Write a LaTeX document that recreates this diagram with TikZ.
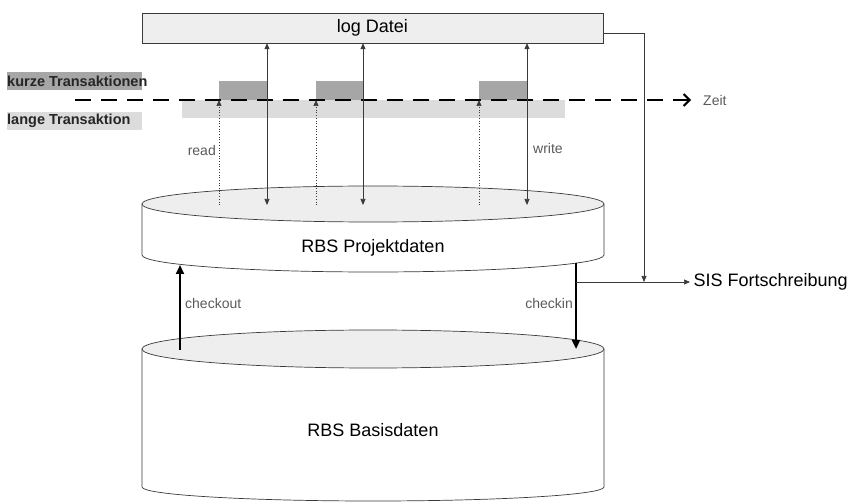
\documentclass[tikz,border=0pt]{standalone}
\usepackage{fontspec}
\setmainfont{Liberation Sans}
\usetikzlibrary{arrows.meta, positioning}
\definecolor{linegray}{HTML}{3A3A3A}
\definecolor{labelgray}{HTML}{5A5A5A}
\definecolor{lightband}{HTML}{DCDCDC}
\definecolor{darkblock}{HTML}{A6A6A6}
\definecolor{diskface}{HTML}{EEEEEE}
\tikzset{
  big/.style={font=\fontsize{18}{20}\selectfont, text=black},
  small/.style={font=\fontsize{14}{16}\selectfont, text=labelgray, inner sep=1pt},
  legend/.style={font=\bfseries\fontsize{14.5}{16}\selectfont, text=black!85, inner sep=0pt, anchor=west},
  logbox/.style={draw=linegray, fill=diskface, minimum width=461pt, minimum height=30pt, inner sep=0pt, big}
}
\tikzstyle{arrow} = [linegray, line width=0.7pt, -{Triangle[length=6pt,width=5pt]}]
\tikzstyle{dblarrow} = [linegray, line width=0.7pt, {Triangle[length=6pt,width=5pt]}-{Triangle[length=6pt,width=5pt]}]
\tikzstyle{readarrow} = [linegray, line width=0.7pt, dotted, -{Triangle[length=6pt,width=5pt]}]
\tikzstyle{heavy} = [black, line width=2.2pt, -{Triangle[length=9pt,width=8pt]}]

\begin{document}
\begin{tikzpicture}[x=1pt,y=-1pt]
    \useasboundingbox (0,0) rectangle (851,502);
    % transactions on the time axis
    \fill [lightband] (182,100) rectangle (565,118);
    \fill [darkblock] (219,81) rectangle (267,100);
    \fill [darkblock] (316,81) rectangle (363,100);
    \fill [darkblock] (479,81) rectangle (527,100);
    \fill [darkblock] (7,72) rectangle (142,90);
    \fill [lightband] (7,112) rectangle (142,130);
    \node [legend] (kurz) at (7,81) {kurze Transaktionen};
    \node [legend] (lang) at (7,121) {lange Transaktion};
    \coordinate (t0) at (75,100);
    \node [small, anchor=west] (zeit) at (702,100) {Zeit};
    \draw [black, line width=2pt, dash pattern=on 16pt off 10pt, shorten >=11pt, -{Straight Barb[length=6pt,width=12pt]}] (t0) -- (zeit.west);
    % log file
    \node [logbox] (log) at (372.5,28) {log Datei};
    % RBS Projektdaten
    \draw [linegray, line width=0.7pt, fill=white] (142,204) -- (142,255) arc [start angle=180, end angle=0, x radius=231, y radius=17] -- (604,204);
    \draw [linegray, line width=0.7pt, fill=diskface] (373,204) ellipse [x radius=231, y radius=18];
    \node [big] (proj) at (373,248) {RBS Projektdaten};
    % RBS Basisdaten
    \draw [linegray, line width=0.7pt, fill=white] (142,349) -- (142,487) arc [start angle=180, end angle=0, x radius=231, y radius=14] -- (604,349);
    \draw [linegray, line width=0.7pt, fill=diskface] (373,349) ellipse [x radius=231, y radius=19];
    \node [big] (basis) at (373,430) {RBS Basisdaten};
    % read / write
    \coordinate (r1) at (219,205);
    \coordinate (r2) at (316,205);
    \coordinate (r3) at (479,205);
    \coordinate (w1) at (267,205);
    \coordinate (w2) at (363,205);
    \coordinate (w3) at (527,205);
    \foreach \r in {r1,r2,r3}
        \draw [readarrow] (\r) -- (\r |- t0);
    \foreach \w in {w1,w2,w3}
        \draw [dblarrow] (\w |- log.south) -- (\w);
    \node [small, anchor=east] (read) at (217,150) {read};
    \node [small, anchor=west] (write) at (532,148) {write};
    % checkout / checkin
    \coordinate (co0) at (180,350);
    \coordinate (co1) at (180,265);
    \coordinate (ci0) at (576,263);
    \coordinate (ci1) at (576,349);
    \draw [heavy] (co0) -- (co1);
    \draw [heavy] (ci0) -- (ci1);
    \node [small, anchor=west] (checkout) at (184,303) {checkout};
    \node [small, anchor=east] (checkin) at (574,303) {checkin};
    % SIS
    \node [big, anchor=west] (sis) at (690,282) {SIS Fortschreibung};
    \coordinate (merge) at (644,282);
    \draw [arrow] (ci0 |- sis.west) -- (sis.west);
    \draw [arrow] ([yshift=-5pt]log.east) -| (merge);
\end{tikzpicture}
\end{document}
